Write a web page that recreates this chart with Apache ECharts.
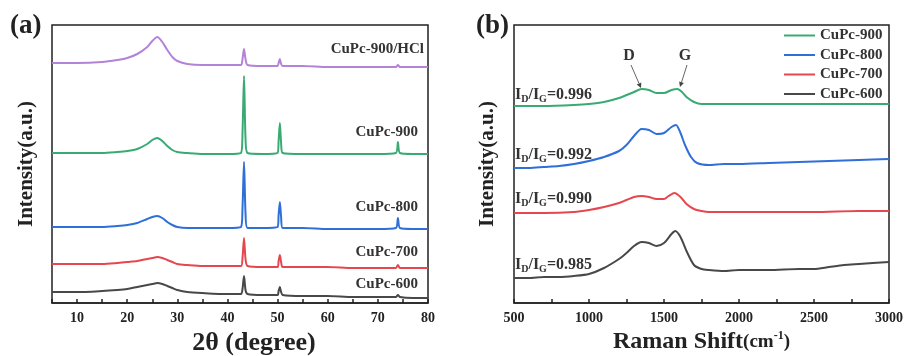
<!DOCTYPE html>
<html>
<head>
<meta charset="utf-8">
<script src="https://cdn.jsdelivr.net/npm/echarts@6/dist/echarts.min.js"></script>
<style>
html, body { margin: 0; padding: 0; background: #fff; }
#chart { width: 906px; height: 356px; }
</style>
</head>
<body>
<div id="chart"></div>
<script>
// (a) XRD, 2theta (degree)
var xrdX = [5, 10, 15, 18, 20, 22, 24, 25, 26, 27, 28, 29, 30, 32, 35, 40, 42.7, 43, 43.3, 43.6, 44, 47, 50, 50.2, 50.45, 50.7, 51, 55, 60, 65, 70, 73.6, 74, 74.4, 77, 80];
var xrdHCl = [240, 240, 241, 243, 245, 249, 256, 262, 266, 261, 253, 246, 242, 239, 238, 238, 238, 244, 254, 244, 238, 237, 237, 240, 244, 239, 237, 237, 236, 236, 236, 236, 238, 236, 236, 236];
var xrd900 = [150, 150, 150, 151, 152, 154, 159, 163, 165, 162, 157, 153, 151, 150, 149, 149, 150, 170, 227, 165, 150, 149, 150, 162, 180, 160, 150, 149, 149, 149, 149, 150, 161, 150, 149, 149];
var xrd800 = [76, 76, 76, 77, 78, 80, 84, 86, 87, 85, 81, 78, 76, 75, 75, 75, 76, 95, 141, 90, 75, 75, 76, 88, 101, 86, 75, 75, 74, 74, 74, 75, 85, 75, 74, 74];
var xrd700 = [39, 39, 39, 40, 41, 42, 44, 45, 46, 45, 43, 41, 39, 38, 37, 37, 37, 45, 65, 44, 37, 36, 36, 42, 48, 41, 36, 36, 36, 35, 35, 35, 38, 35, 35, 35];
var xrd600 = [11, 11, 12, 13, 14, 16, 18, 19, 20, 19, 17, 15, 13, 11, 10, 9, 9, 14, 27, 13, 9, 8, 8, 12, 16, 11, 8, 7, 7, 6, 6, 6, 8, 6, 5, 5];

// (b) Raman shift (cm-1)
var ramanX900 = [500, 700, 900, 1000, 1100, 1200, 1300, 1350, 1400, 1450, 1500, 1550, 1590, 1620, 1650, 1700, 1750, 1800, 2000, 2500, 3000];
var raman900 = [197, 197, 198, 199, 201, 205, 211, 214, 213, 210, 210, 213, 214, 211, 206, 201, 199, 199, 199, 199, 199];
var ramanX800 = [500, 600, 700, 800, 900, 1000, 1100, 1200, 1250, 1300, 1350, 1400, 1450, 1500, 1550, 1580, 1610, 1640, 1680, 1720, 1800, 1900, 2000, 2200, 2400, 2600, 2800, 3000];
var raman800 = [135, 135, 136, 137, 139, 142, 146, 152, 158, 167, 174, 173, 169, 170, 176, 178, 170, 158, 146, 140, 138, 139, 139, 140, 141, 142, 143, 144];
var ramanX700 = [500, 700, 900, 1000, 1100, 1200, 1250, 1300, 1350, 1400, 1450, 1500, 1530, 1570, 1610, 1650, 1700, 1750, 1800, 2000, 2200, 2500, 2800, 3000];
var raman700 = [90, 90, 91, 93, 96, 100, 103, 106, 107, 106, 104, 104, 107, 110, 106, 99, 94, 92, 91, 91, 91, 91, 92, 92];
var ramanX600 = [500, 600, 700, 800, 900, 1000, 1100, 1200, 1250, 1300, 1350, 1400, 1450, 1500, 1550, 1575, 1610, 1650, 1700, 1750, 1800, 1900, 2000, 2200, 2400, 2500, 2600, 2700, 2800, 3000];
var raman600 = [25, 25, 26, 26, 27, 29, 35, 44, 50, 57, 61, 60, 57, 60, 69, 72, 66, 52, 38, 34, 33, 32, 33, 33, 34, 34, 36, 38, 39, 41];

var ratioLabels = ['0.996', '0.992', '0.990', '0.985'];
var sampleNames = ['CuPc-900', 'CuPc-800', 'CuPc-700', 'CuPc-600'];

var colors = {
    hcl: '#b383d8',
    c900: '#3aaa74',
    c800: '#2f6fd8',
    c700: '#e5474f',
    c600: '#484848'
};

var serif = '"Liberation Serif", "DejaVu Serif", serif';

function pairs(xs, ys) {
    return xs.map(function (x, i) { return [x, ys[i]]; });
}

function lineSeries(name, xi, xs, ys, color) {
    return {
        name: name,
        type: 'line',
        xAxisIndex: xi,
        yAxisIndex: xi,
        data: pairs(xs, ys),
        showSymbol: false,
        smooth: 0.25,
        lineStyle: { color: color, width: 2 },
        itemStyle: { color: color },
        silent: true
    };
}

function axisBase() {
    return {
        type: 'value',
        axisLine: { show: true, onZero: false, lineStyle: { color: '#222', width: 1.5 } },
        axisTick: { show: true, inside: true, length: 4, lineStyle: { color: '#222', width: 1.5 } },
        axisLabel: { color: '#222', fontFamily: serif, fontWeight: 'bold', fontSize: 14, margin: 8 },
        splitLine: { show: false }
    };
}

var xA = axisBase();
xA.gridIndex = 0;
xA.min = 5;
xA.max = 80;
xA.interval = 5;
xA.axisLabel.formatter = function (v) { return (v % 10 === 0) ? String(v) : ''; };
xA.name = '2θ (degree)';
xA.nameLocation = 'middle';
xA.nameGap = 27;
xA.nameTextStyle = { color: '#222', fontFamily: serif, fontWeight: 'bold', fontSize: 26, padding: [0, 0, 0, 28] };

var xB = axisBase();
xB.gridIndex = 1;
xB.min = 500;
xB.max = 3000;
xB.interval = 500;
xB.axisLabel.formatter = function (v) { return String(v); };
xB.minorTick = { show: true, splitNumber: 2, length: 4, lineStyle: { color: '#222', width: 1.5 } };
xB.name = '{m|Raman Shift}{s|(cm}{sup|-1}{s|)}';
xB.nameLocation = 'middle';
xB.nameGap = 27;
xB.nameTextStyle = {
    color: '#222', fontFamily: serif, fontWeight: 'bold',
    rich: {
        m: { fontFamily: serif, fontWeight: 'bold', fontSize: 24, color: '#222' },
        s: { fontFamily: serif, fontWeight: 'bold', fontSize: 19, color: '#222' },
        sup: { fontFamily: serif, fontWeight: 'bold', fontSize: 12, color: '#222', verticalAlign: 'top', padding: [0, 0, 12, 0] }
    }
};

function yAxis(gi, gap) {
    return {
        type: 'value',
        gridIndex: gi,
        min: 0,
        max: 278,
        axisLine: { show: false },
        axisTick: { show: false },
        axisLabel: { show: false },
        splitLine: { show: false },
        name: 'Intensity(a.u.)',
        nameLocation: 'middle',
        nameGap: gap,
        nameTextStyle: { color: '#222', fontFamily: serif, fontWeight: 'bold', fontSize: 21 }
    };
}

function sampleText(text, right, y) {
    return {
        type: 'text', x: right, y: y, silent: true,
        style: { text: text, fill: '#333', font: 'bold 15px ' + serif, align: 'right', verticalAlign: 'middle' }
    };
}

function ratioText(val, y) {
    return {
        type: 'text', x: 515, y: y, silent: true,
        style: {
            text: '{b|I}{s|D}{b|/I}{s|G}{b|=' + val + '}',
            verticalAlign: 'middle',
            rich: {
                b: { fill: '#333', fontFamily: serif, fontWeight: 'bold', fontSize: 16 },
                s: { fill: '#333', fontFamily: serif, fontWeight: 'bold', fontSize: 10, padding: [9, 0, 0, 0] }
            }
        }
    };
}

function arrow(x1, y1, x2, y2) {
    var ang = Math.atan2(y2 - y1, x2 - x1);
    var L = 5, W = 2.5;
    var bx = x2 - L * Math.cos(ang), by = y2 - L * Math.sin(ang);
    var px = -Math.sin(ang) * W, py = Math.cos(ang) * W;
    return [{
        type: 'line', silent: true,
        shape: { x1: x1, y1: y1, x2: bx, y2: by },
        style: { stroke: '#666', lineWidth: 1 }
    }, {
        type: 'polygon', silent: true,
        shape: { points: [[x2, y2], [bx + px, by + py], [bx - px, by - py]] },
        style: { fill: '#444' }
    }];
}

var graphics = [
    { type: 'text', x: 10, y: 26, silent: true, style: { text: '(a)', fill: '#222', font: 'bold 27px ' + serif, verticalAlign: 'middle' } },
    { type: 'text', x: 476, y: 26, silent: true, style: { text: '(b)', fill: '#222', font: 'bold 27px ' + serif, verticalAlign: 'middle' } },
    sampleText('CuPc-900/HCl', 424, 49),
    sampleText('CuPc-900', 418, 132),
    sampleText('CuPc-800', 418, 207),
    sampleText('CuPc-700', 418, 252),
    sampleText('CuPc-600', 418, 284),
    ratioText(ratioLabels[0], 95),
    ratioText(ratioLabels[1], 155),
    ratioText(ratioLabels[2], 199),
    ratioText(ratioLabels[3], 265),
    { type: 'text', x: 629, y: 56, silent: true, style: { text: 'D', fill: '#333', font: 'bold 16px ' + serif, align: 'center', verticalAlign: 'middle' } },
    { type: 'text', x: 685, y: 56, silent: true, style: { text: 'G', fill: '#333', font: 'bold 16px ' + serif, align: 'center', verticalAlign: 'middle' } }
].concat(arrow(631, 65, 641, 88), arrow(687, 65, 680, 87));

var option = {
    animation: false,
    backgroundColor: '#fff',
    grid: [
        { left: 52, top: 25, width: 376, height: 278, show: true, borderColor: '#222', borderWidth: 1.5, backgroundColor: 'transparent', outerBoundsMode: 'none', containLabel: false },
        { left: 514, top: 25, width: 375, height: 278, show: true, borderColor: '#222', borderWidth: 1.5, backgroundColor: 'transparent', outerBoundsMode: 'none', containLabel: false }
    ],
    xAxis: [xA, xB],
    yAxis: [yAxis(0, 15), yAxis(1, 16)],
    legend: {
        data: sampleNames.map(function (n) {
            return { name: n + ' ', icon: 'rect' };
        }),
        orient: 'vertical',
        left: 784,
        top: 28,
        padding: 0,
        itemWidth: 31,
        itemHeight: 2,
        itemGap: 4.5,
        textStyle: { color: '#333', fontFamily: serif, fontWeight: 'bold', fontSize: 15 },
        selectedMode: false
    },
    series: [
        lineSeries('CuPc-900/HCl', 0, xrdX, xrdHCl, colors.hcl),
        lineSeries('CuPc-900', 0, xrdX, xrd900, colors.c900),
        lineSeries('CuPc-800', 0, xrdX, xrd800, colors.c800),
        lineSeries('CuPc-700', 0, xrdX, xrd700, colors.c700),
        lineSeries('CuPc-600', 0, xrdX, xrd600, colors.c600),
        lineSeries('CuPc-900 ', 1, ramanX900, raman900, colors.c900),
        lineSeries('CuPc-800 ', 1, ramanX800, raman800, colors.c800),
        lineSeries('CuPc-700 ', 1, ramanX700, raman700, colors.c700),
        lineSeries('CuPc-600 ', 1, ramanX600, raman600, colors.c600)
    ],
    graphic: graphics
};

var chart = echarts.init(document.getElementById('chart'));
chart.setOption(option);
</script>
</body>
</html>
